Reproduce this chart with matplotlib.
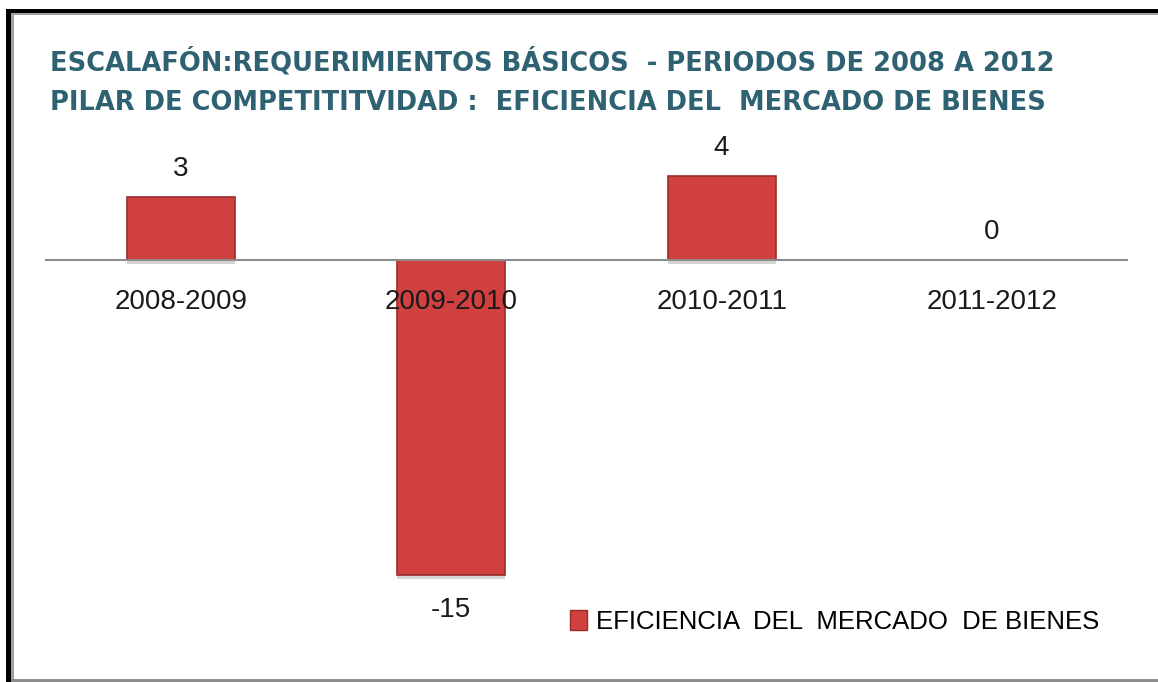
import matplotlib
matplotlib.use("Agg")
import matplotlib.pyplot as plt
import matplotlib.patheffects as pe
from matplotlib.patches import Rectangle

# data
periods = ["2008-2009", "2009-2010", "2010-2011", "2011-2012"]
values = [3, -15, 4, 0]
series_name = "EFICIENCIA  DEL  MERCADO  DE BIENES"
title_lines = [
    "ESCALAFÓN:REQUERIMIENTOS BÁSICOS  - PERIODOS DE 2008 A 2012",
    "PILAR DE COMPETITITVIDAD :  EFICIENCIA DEL  MERCADO DE BIENES",
]

W, H = 1158, 682
fig = plt.figure(figsize=(W / 100, H / 100), dpi=100)
fig.patch.set_facecolor("white")

# frame around the chart area
fig.add_artist(Rectangle((6 / W, 0), 5 / W, 1 - 9 / H, transform=fig.transFigure,
                         facecolor="black", edgecolor="none"))
fig.add_artist(Rectangle((11 / W, 0), 3 / W, 1 - 13 / H, transform=fig.transFigure,
                         facecolor="#a0a0a0", edgecolor="none"))
fig.add_artist(Rectangle((6 / W, 1 - 13 / H), 1 - 6 / W, 4 / H, transform=fig.transFigure,
                         facecolor="black", edgecolor="none"))
fig.add_artist(Rectangle((11 / W, 1 - 15 / H), 1 - 11 / W, 2 / H, transform=fig.transFigure,
                         facecolor="#a0a0a0", edgecolor="none"))
fig.add_artist(Rectangle((11 / W, 0), 1 - 11 / W, 3 / H, transform=fig.transFigure,
                         facecolor="#8c8c8c", edgecolor="none"))

# axes: zero line at y=260 px, 21 px per unit
ax_top, ax_bot, zero_px, ppu = 130, 600, 260, 21.0
ax = fig.add_axes([46 / W, 1 - ax_bot / H, 1081 / W, (ax_bot - ax_top) / H])
ax.set_xlim(-0.5, 3.5)
ax.set_ylim(-(ax_bot - zero_px) / ppu, (zero_px - ax_top) / ppu)
ax.patch.set_alpha(0)

font = ["Liberation Sans", "DejaVu Sans"]
bars = ax.bar(range(len(periods)), values, width=0.4, color="#d0403e",
              edgecolor="#9b2b2b", linewidth=1.2, label=series_name, zorder=2)
for b in bars:
    b.set_path_effects([pe.SimplePatchShadow(offset=(0, -3), shadow_rgbFace="#888888", alpha=0.35),
                        pe.Normal()])

for s in ["top", "right", "left"]:
    ax.spines[s].set_visible(False)
ax.spines["bottom"].set_position(("data", 0))
ax.spines["bottom"].set_color("#8c8c8c")
ax.spines["bottom"].set_linewidth(1.5)
ax.set_yticks([])
ax.set_xticks(range(len(periods)))
ax.set_xticklabels(periods, fontsize=20, family=font, color="#1a1a1a")
ax.tick_params(axis="x", length=0, pad=21)
ax.xaxis.set_zorder(4)

for i, v in enumerate(values):
    if v >= 0:
        ax.annotate(str(v), (i, v), xytext=(0, 11), textcoords="offset points",
                    ha="center", va="bottom", fontsize=20, family=font, color="#1a1a1a")
    else:
        ax.annotate(str(v), (i, v), xytext=(0, -16), textcoords="offset points",
                    ha="center", va="top", fontsize=20, family=font, color="#1a1a1a")

for k, (line, base) in enumerate(zip(title_lines, [71, 110])):
    fig.text(50 / W, 1 - base / H, line, fontsize=18.5, fontweight="bold",
             family="DejaVu Sans", color="#2e6272", va="baseline")

handle = Rectangle((0, 0), 1, 1, facecolor="#d0403e", edgecolor="#9b2b2b", linewidth=1.0)
fig.legend(handles=[handle], labels=[series_name], loc="center left",
           bbox_to_anchor=(570 / W, 1 - 622 / H), frameon=False, borderpad=0,
           borderaxespad=0, handlelength=0.65, handleheight=0.8, handletextpad=0.35,
           prop={"family": font, "size": 18.5})

fig.savefig("out.png", dpi=100, facecolor="white")
